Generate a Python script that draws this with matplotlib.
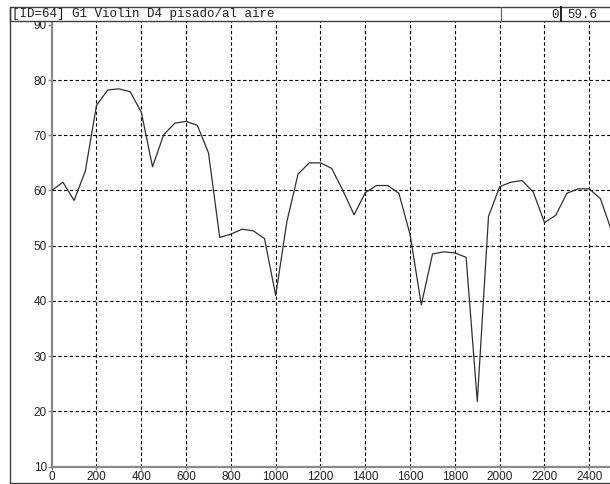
import matplotlib.pyplot as plt
from matplotlib.lines import Line2D
from matplotlib.patches import Rectangle

# spectrum envelope, one point every 50 Hz
freq_hz = [0, 50, 100, 150, 200, 250, 300, 350, 400, 450,
           500, 550, 600, 650, 700, 750, 800, 850, 900, 950,
           1000, 1050, 1100, 1150, 1200, 1250, 1300, 1350, 1400, 1450,
           1500, 1550, 1600, 1650, 1700, 1750, 1800, 1850, 1900, 1950,
           2000, 2050, 2100, 2150, 2200, 2250, 2300, 2350, 2400, 2450,
           2500]
level_db = [60.0, 61.5, 58.2, 63.5, 75.4, 78.2, 78.4, 77.9, 74.2, 64.3,
            70.1, 72.2, 72.5, 71.8, 66.8, 51.5, 52.1, 53.0, 52.7, 51.3,
            41.0, 54.4, 63.0, 65.0, 65.0, 64.0, 60.0, 55.6, 59.6, 60.9,
            60.9, 59.5, 52.0, 39.3, 48.5, 48.9, 48.7, 47.9, 21.8, 55.3,
            60.7, 61.5, 61.8, 59.7, 54.2, 55.5, 59.5, 60.3, 60.3, 58.5,
            52.6]

x_ticks = list(range(0, 2401, 200))
y_ticks = list(range(10, 91, 10))

header_title = "[ID=64] G1 Violin D4 pisado/al aire"
header_index = "0"
header_value = "59.6"

W, H = 610, 484
fig = plt.figure(figsize=(W / 100, H / 100), dpi=100)


def px(x, y):
    # pixel position (from top-left) to figure fraction
    return x / W, 1 - y / H


# plot area: left axis at x=51.7, bottom axis at y=466.7, top under the header
ax_left, ax_bottom, ax_top = 51.7, 466.7, 21.0
px_per_200hz = 44.8
px_per_db = 5.524
ax = fig.add_axes([ax_left / W, 1 - ax_bottom / H,
                   (W - ax_left) / W, (ax_bottom - ax_top) / H])
ax.set_xlim(0, (W - ax_left) / px_per_200hz * 200)
ax.set_ylim(10, 10 + (ax_bottom - ax_top) / px_per_db)

for s in ("top", "right"):
    ax.spines[s].set_visible(False)
for s in ("left", "bottom"):
    ax.spines[s].set_color("#8a8a8a")
    ax.spines[s].set_linewidth(1.6)

tick_font = {"family": ["Liberation Sans Narrow", "Liberation Sans"], "size": 8.5}
ax.set_xticks(x_ticks)
ax.set_xticklabels([str(v) for v in x_ticks], **tick_font)
ax.set_yticks(y_ticks)
ax.set_yticklabels([str(v) for v in y_ticks], **tick_font)
ax.tick_params(axis="y", length=3, width=1, color="#8a8a8a", pad=0.5,
               labelcolor="#222222")
ax.tick_params(axis="x", length=2, width=1, color="#8a8a8a", pad=1,
               labelcolor="#222222")

# dashed grid, skipping the axis lines and the top value
for yv in y_ticks[1:-1]:
    ax.axhline(yv, color="black", lw=0.8, ls=(0, (3, 2.2)), zorder=1)
for xv in x_ticks[1:]:
    ax.axvline(xv, color="black", lw=0.8, ls=(0, (3, 2.2)), zorder=1)

ax.plot(freq_hz, level_db, color="#303030", lw=0.9, zorder=3)

# outer frame and header strip
frame_color = "#404040"
fig.add_artist(Line2D([10 / W, 10 / W], [1 - 7 / H, 1 - 483 / H],
                      color=frame_color, lw=1.0))
fig.add_artist(Line2D([10 / W, 1], [1 - 483 / H, 1 - 483 / H],
                      color=frame_color, lw=1.0))
fig.add_artist(Rectangle(px(10, 21), (W - 10) / W + 0.01, 14 / H,
                         facecolor="white", edgecolor=frame_color, lw=1.0))
fig.add_artist(Line2D([501 / W, 501 / W], [1 - 7 / H, 1 - 21 / H],
                      color="#606060", lw=0.8))
fig.add_artist(Line2D([561 / W, 561 / W], [1 - 7 / H, 1 - 21 / H],
                      color="#202020", lw=1.4))

mono = {"family": ["Liberation Mono", "DejaVu Sans Mono"], "size": 9,
        "color": "#202020", "va": "center"}
fig.text(*px(12, 14.5), header_title, ha="left", **mono)
fig.text(*px(559, 14.5), header_index, ha="right", **mono)
fig.text(*px(567, 14.5), header_value, ha="left", **mono)

fig.savefig("out.png", dpi=100)
